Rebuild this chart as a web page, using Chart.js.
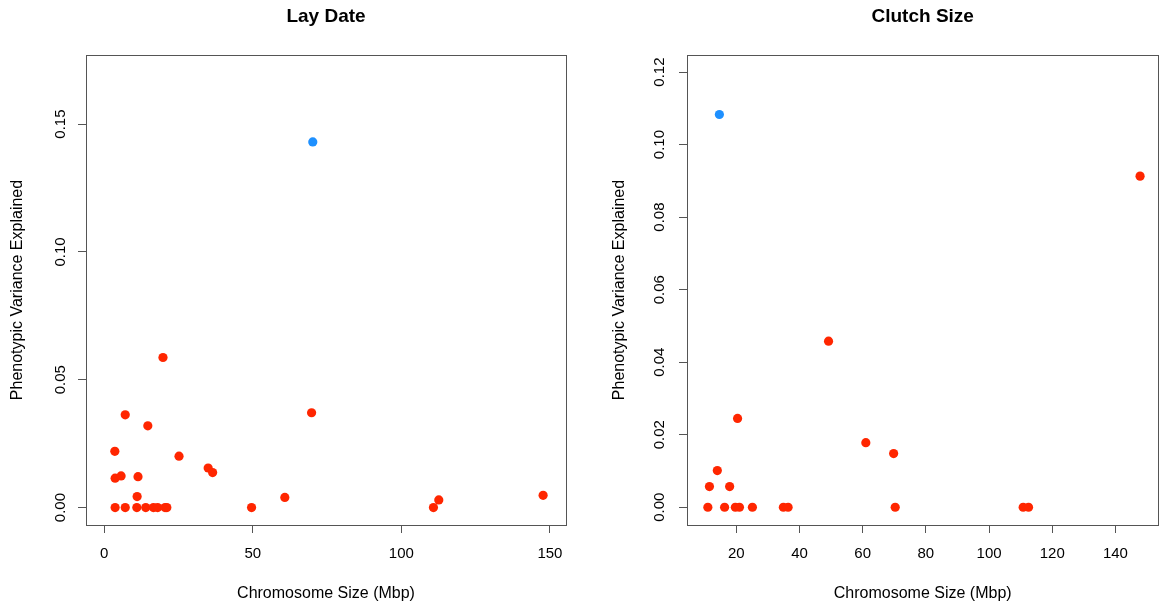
<!DOCTYPE html>
<html>
<head>
<meta charset="utf-8">
<title>Lay Date / Clutch Size</title>
<script src="https://cdn.jsdelivr.net/npm/chart.js@4.4.0/dist/chart.umd.min.js"></script>
<style>
  body { margin: 0; background: #fff; }
  #wrap { position: relative; width: 1163px; height: 608px; }
  canvas { position: absolute; top: 0; }
  #layChart { left: 0; }
  #clutchChart { left: 582px; }
</style>
</head>
<body>
<div id="wrap">
  <canvas id="layChart" width="582" height="608"></canvas>
  <canvas id="clutchChart" width="581" height="608"></canvas>
</div>
<script>
// Lay Date panel (chromosome size in Mbp, variance explained)
const layX = [3.7, 7.1, 11.0, 14.0, 16.6, 18.0, 20.5, 21.1, 49.6, 110.8,
  7.1, 14.7, 3.6, 25.2, 35.0, 36.5, 3.7, 5.7, 11.4, 11.1, 60.8, 69.8, 112.6, 147.7, 19.8];
const layY = [0, 0, 0, 0, 0, 0, 0, 0, 0, 0,
  0.0363, 0.032, 0.022, 0.0201, 0.0155, 0.0137, 0.0115, 0.0124, 0.0121, 0.0043, 0.004, 0.0371, 0.003, 0.0048, 0.0587];
const layTopX = [70.2];
const layTopY = [0.143];
const layXTicks = [0, 50, 100, 150];
const layYTicks = [0, 0.05, 0.10, 0.15];

// Clutch Size panel
const clutchX = [11.0, 16.3, 19.7, 21.0, 25.1, 34.9, 36.4, 70.3, 110.8, 112.5,
  20.4, 61.0, 14.0, 11.5, 17.9, 69.8, 147.8, 49.2];
const clutchY = [0, 0, 0, 0, 0, 0, 0, 0, 0, 0,
  0.0245, 0.0178, 0.0101, 0.0057, 0.0057, 0.0148, 0.0913, 0.0458];
const clutchTopX = [14.65];
const clutchTopY = [0.1083];
const clutchXTicks = [20, 40, 60, 80, 100, 120, 140];
const clutchYTicks = [0, 0.02, 0.04, 0.06, 0.08, 0.10, 0.12];

const FONT = '"Liberation Sans", Arial, Helvetica, sans-serif';
const RED = "#ff2600";
const BLUE = "#1e90ff";
const AXIS = "#555555";

// box around the plot, main title and rotated y labels, R style
const rStyle = {
  id: "rStyle",
  afterDraw(chart, args, opts) {
    const ctx = chart.ctx;
    const a = chart.chartArea;
    ctx.save();
    ctx.strokeStyle = AXIS;
    ctx.lineWidth = 1;
    ctx.strokeRect(Math.round(a.left) + 0.5, Math.round(a.top) + 0.5,
      Math.round(a.right - a.left), Math.round(a.bottom - a.top));

    ctx.fillStyle = "#000";
    ctx.textAlign = "center";
    ctx.textBaseline = "middle";
    ctx.font = "bold 19px " + FONT;
    ctx.fillText(opts.title, (a.left + a.right) / 2, 17);

    const y = chart.scales.y;
    ctx.font = "15px " + FONT;
    opts.yTicks.forEach((v) => {
      ctx.save();
      ctx.translate(a.left - opts.labelGap, y.getPixelForValue(v));
      ctx.rotate(-Math.PI / 2);
      ctx.fillText(v.toFixed(2), 0, 0);
      ctx.restore();
    });
    ctx.restore();
  },
};

function points(xs, ys) {
  return xs.map((x, i) => ({ x: x, y: ys[i] }));
}

function makePanel(id, cfg) {
  const ctx = document.getElementById(id).getContext("2d");
  return new Chart(ctx, {
    type: "scatter",
    data: {
      datasets: [
        {
          data: points(cfg.x, cfg.y),
          backgroundColor: RED,
          borderColor: RED,
          borderWidth: 0,
          pointRadius: 4.6,
        },
        {
          data: points(cfg.topX, cfg.topY),
          backgroundColor: BLUE,
          borderColor: BLUE,
          borderWidth: 0,
          pointRadius: 4.6,
        },
      ],
    },
    options: {
      responsive: false,
      animation: false,
      devicePixelRatio: 1,
      layout: { padding: { top: 55, right: cfg.padRight, left: 0, bottom: 0 } },
      plugins: {
        legend: { display: false },
        title: { display: false },
        tooltip: { enabled: false },
        rStyle: { title: cfg.title, yTicks: cfg.yTicks, labelGap: cfg.labelGap },
      },
      scales: {
        x: {
          type: "linear",
          min: cfg.xMin,
          max: cfg.xMax,
          afterBuildTicks: (s) => {
            s.ticks = cfg.xTicks.map((v) => ({ value: v }));
          },
          afterFit: (s) => {
            s.height = 83;
          },
          grid: { drawOnChartArea: false, drawTicks: true, tickLength: 8, color: AXIS },
          border: { display: true, color: AXIS },
          ticks: {
            color: "#000",
            font: { family: FONT, size: 15 },
            padding: 12,
            maxRotation: 0,
            autoSkip: false,
            callback: (v) => String(v),
          },
          title: {
            display: true,
            text: "Chromosome Size (Mbp)",
            color: "#000",
            font: { family: FONT, size: 16 },
            padding: { top: 0, bottom: 5 },
          },
        },
        y: {
          type: "linear",
          min: cfg.yMin,
          max: cfg.yMax,
          afterBuildTicks: (s) => {
            s.ticks = cfg.yTicks.map((v) => ({ value: v }));
          },
          afterFit: (s) => {
            s.width = cfg.yWidth;
          },
          grid: { drawOnChartArea: false, drawTicks: true, tickLength: 8, color: AXIS },
          border: { display: true, color: AXIS },
          ticks: { display: false },
          title: {
            display: true,
            text: "Phenotypic Variance Explained",
            color: "#000",
            font: { family: FONT, size: 16 },
            padding: { top: cfg.yTitlePad, bottom: 0 },
          },
        },
      },
    },
    plugins: [rStyle],
  });
}

makePanel("layChart", {
  title: "Lay Date",
  x: layX, y: layY, topX: layTopX, topY: layTopY,
  xTicks: layXTicks, yTicks: layYTicks,
  xMin: -6.1, xMax: 155.4, yMin: -0.0068, yMax: 0.177,
  yWidth: 86, padRight: 16, labelGap: 25, yTitlePad: 8,
});

makePanel("clutchChart", {
  title: "Clutch Size",
  x: clutchX, y: clutchY, topX: clutchTopX, topY: clutchTopY,
  xTicks: clutchXTicks, yTicks: clutchYTicks,
  xMin: 4.4, xMax: 153.6, yMin: -0.0049, yMax: 0.1247,
  yWidth: 105, padRight: 1, labelGap: 27, yTitlePad: 28,
});
</script>
</body>
</html>
